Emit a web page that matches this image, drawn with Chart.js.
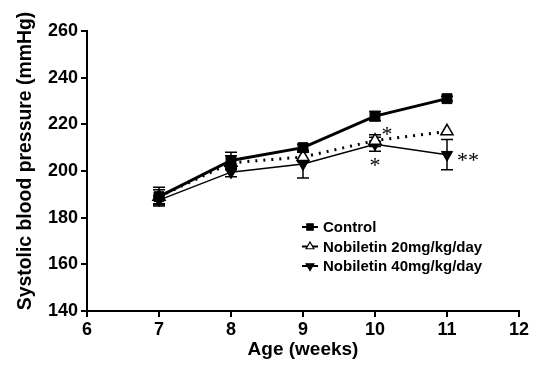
<!DOCTYPE html>
<html>
<head>
<meta charset="utf-8">
<script src="https://cdn.jsdelivr.net/npm/chart.js@4.4.1/dist/chart.umd.min.js"></script>
<style>
    html, body { margin: 0; padding: 0; background: #fff; }
    #wrap { width: 535px; height: 369px; }
</style>
</head>
<body>
<div id="wrap"><canvas id="bpChart" width="535" height="369"></canvas></div>
<script>
const weeks = [7, 8, 9, 10, 11];

const controlBP = [189, 204.5, 210, 223.5, 231];
const controlErr = [4, 3.5, 1.5, 2, 1];

const nob20BP = [189, 203.5, 206, 213, 217];
const nob20Err = [3, 3, 2, 2.5, 0];

const nob40BP = [187.5, 199.5, 203, 211.5, 207];
const nob40Err = [2, 2, 6, 3, 6.5];

const seriesLabels = ['Control', 'Nobiletin 20mg/kg/day', 'Nobiletin 40mg/kg/day'];

// significance marks
const sigWeeks = [10, 10, 11];
const sigValues = [216.5, 203.5, 205.5];
const sigText = ['*', '*', '**'];

const xTicks = [6, 7, 8, 9, 10, 11, 12];
const yTicks = [140, 160, 180, 200, 220, 240, 260];

const xTitle = 'Age (weeks)';
const yTitle = 'Systolic blood pressure (mmHg)';

const toPoints = (vals) => weeks.map((w, i) => ({ x: w, y: vals[i] }));
const errors = [controlErr, nob20Err, nob40Err];

const errorBars = {
    id: 'errorBars',
    beforeDatasetsDraw(chart) {
        const ctx = chart.ctx;
        const xs = chart.scales.x;
        const ys = chart.scales.y;
        ctx.save();
        ctx.strokeStyle = '#000';
        ctx.lineWidth = 1.5;
        chart.data.datasets.forEach((ds, di) => {
            ds.data.forEach((p, i) => {
                const e = errors[di][i];
                if (!e) return;
                const px = xs.getPixelForValue(p.x);
                const top = ys.getPixelForValue(p.y + e);
                const bot = ys.getPixelForValue(p.y - e);
                ctx.beginPath();
                ctx.moveTo(px, top); ctx.lineTo(px, bot);
                ctx.moveTo(px - 6, top); ctx.lineTo(px + 6, top);
                ctx.moveTo(px - 6, bot); ctx.lineTo(px + 6, bot);
                ctx.stroke();
            });
        });
        ctx.restore();
    }
};

const sigMarks = {
    id: 'sigMarks',
    afterDatasetsDraw(chart) {
        const ctx = chart.ctx;
        const xs = chart.scales.x;
        const ys = chart.scales.y;
        const dx = [12, 0, 21];
        ctx.save();
        ctx.fillStyle = '#000';
        ctx.font = '22px "Liberation Serif", serif';
        ctx.textAlign = 'center';
        ctx.textBaseline = 'middle';
        sigText.forEach((t, i) => {
            const px = xs.getPixelForValue(sigWeeks[i]) + dx[i];
            const py = ys.getPixelForValue(sigValues[i]);
            ctx.fillText(t, px, py + 3);
        });
        ctx.restore();
    }
};

// y title drawn by hand so it can sit a bit above the axis centre, as in the original
const yTitlePlugin = {
    id: 'yTitlePlugin',
    afterDraw(chart) {
        const ctx = chart.ctx;
        ctx.save();
        ctx.translate(26, 161);
        ctx.rotate(-Math.PI / 2);
        ctx.fillStyle = '#000';
        ctx.font = 'bold 19.4px "Liberation Sans", Arial, sans-serif';
        ctx.textAlign = 'center';
        ctx.textBaseline = 'middle';
        ctx.fillText(yTitle, 0, 0);
        ctx.restore();
    }
};

const innerLegend = {
    id: 'innerLegend',
    afterDraw(chart) {
        const ctx = chart.ctx;
        const area = chart.chartArea;
        const x0 = area.left + 215;
        const y0 = area.top + 196;
        ctx.save();
        chart.data.datasets.forEach((ds, i) => {
            const y = y0 + i * 19.5;
            ctx.strokeStyle = '#000';
            ctx.lineWidth = 2;
            ctx.setLineDash([]);
            ctx.beginPath();
            ctx.moveTo(x0, y); ctx.lineTo(x0 + 16, y);
            ctx.stroke();
            ctx.lineWidth = 1.2;
            ctx.fillStyle = ds.pointBackgroundColor;
            Chart.helpers.drawPoint(ctx, {
                pointStyle: ds.pointStyle,
                rotation: ds.pointRotation || 0,
                radius: 4.5,
                borderWidth: 1.2
            }, x0 + 8, y);
            ctx.fillStyle = '#000';
            ctx.font = 'bold 15px "Liberation Sans", Arial, sans-serif';
            ctx.textAlign = 'left';
            ctx.textBaseline = 'middle';
            ctx.fillText(seriesLabels[i], x0 + 21, y + 1);
        });
        ctx.restore();
    }
};

const tickFont = { family: '"Liberation Sans", Arial, sans-serif', size: 18, weight: 'bold' };
const titleFont = { family: '"Liberation Sans", Arial, sans-serif', size: 19, weight: 'bold' };

new Chart(document.getElementById('bpChart'), {
    type: 'line',
    data: {
        datasets: [
            {
                label: seriesLabels[0],
                data: toPoints(controlBP),
                borderColor: '#000',
                borderWidth: 3,
                pointStyle: 'rect',
                pointRadius: 7,
                pointBackgroundColor: '#000',
                pointBorderColor: '#000',
                pointBorderWidth: 1
            },
            {
                label: seriesLabels[1],
                data: toPoints(nob20BP),
                borderColor: '#000',
                borderWidth: 3,
                borderDash: [2, 6],
                pointStyle: 'triangle',
                pointRadius: 7,
                pointBackgroundColor: '#fff',
                pointBorderColor: '#000',
                pointBorderWidth: 1.5
            },
            {
                label: seriesLabels[2],
                data: toPoints(nob40BP),
                borderColor: '#000',
                borderWidth: 1.5,
                pointStyle: 'triangle',
                pointRotation: 180,
                pointRadius: 6.5,
                pointBackgroundColor: '#000',
                pointBorderColor: '#000',
                pointBorderWidth: 1
            }
        ]
    },
    options: {
        responsive: false,
        animation: false,
        layout: { padding: { top: 31, right: 16, left: 0, bottom: 0 } },
        plugins: {
            legend: { display: false },
            tooltip: { enabled: false }
        },
        scales: {
            x: {
                type: 'linear',
                min: 6,
                max: 12,
                afterFit: (s) => { s.height = 58; },
                afterBuildTicks: (s) => { s.ticks = xTicks.map(v => ({ value: v })); },
                ticks: { color: '#000', font: tickFont, padding: 2, maxRotation: 0 },
                grid: { drawOnChartArea: false, drawTicks: true, tickLength: 6, color: '#000', lineWidth: 2 },
                border: { display: true, color: '#000', width: 2 },
                title: { display: true, text: xTitle, color: '#000', font: titleFont, padding: { top: 0, bottom: 8 } }
            },
            y: {
                min: 140,
                max: 260,
                afterFit: (s) => { s.width = 87; },
                afterBuildTicks: (s) => { s.ticks = yTicks.map(v => ({ value: v })); },
                ticks: { color: '#000', font: tickFont, padding: 3 },
                grid: { drawOnChartArea: false, drawTicks: true, tickLength: 6, color: '#000', lineWidth: 2 },
                border: { display: true, color: '#000', width: 2 }
            }
        }
    },
    plugins: [errorBars, sigMarks, yTitlePlugin, innerLegend]
});
</script>
</body>
</html>
